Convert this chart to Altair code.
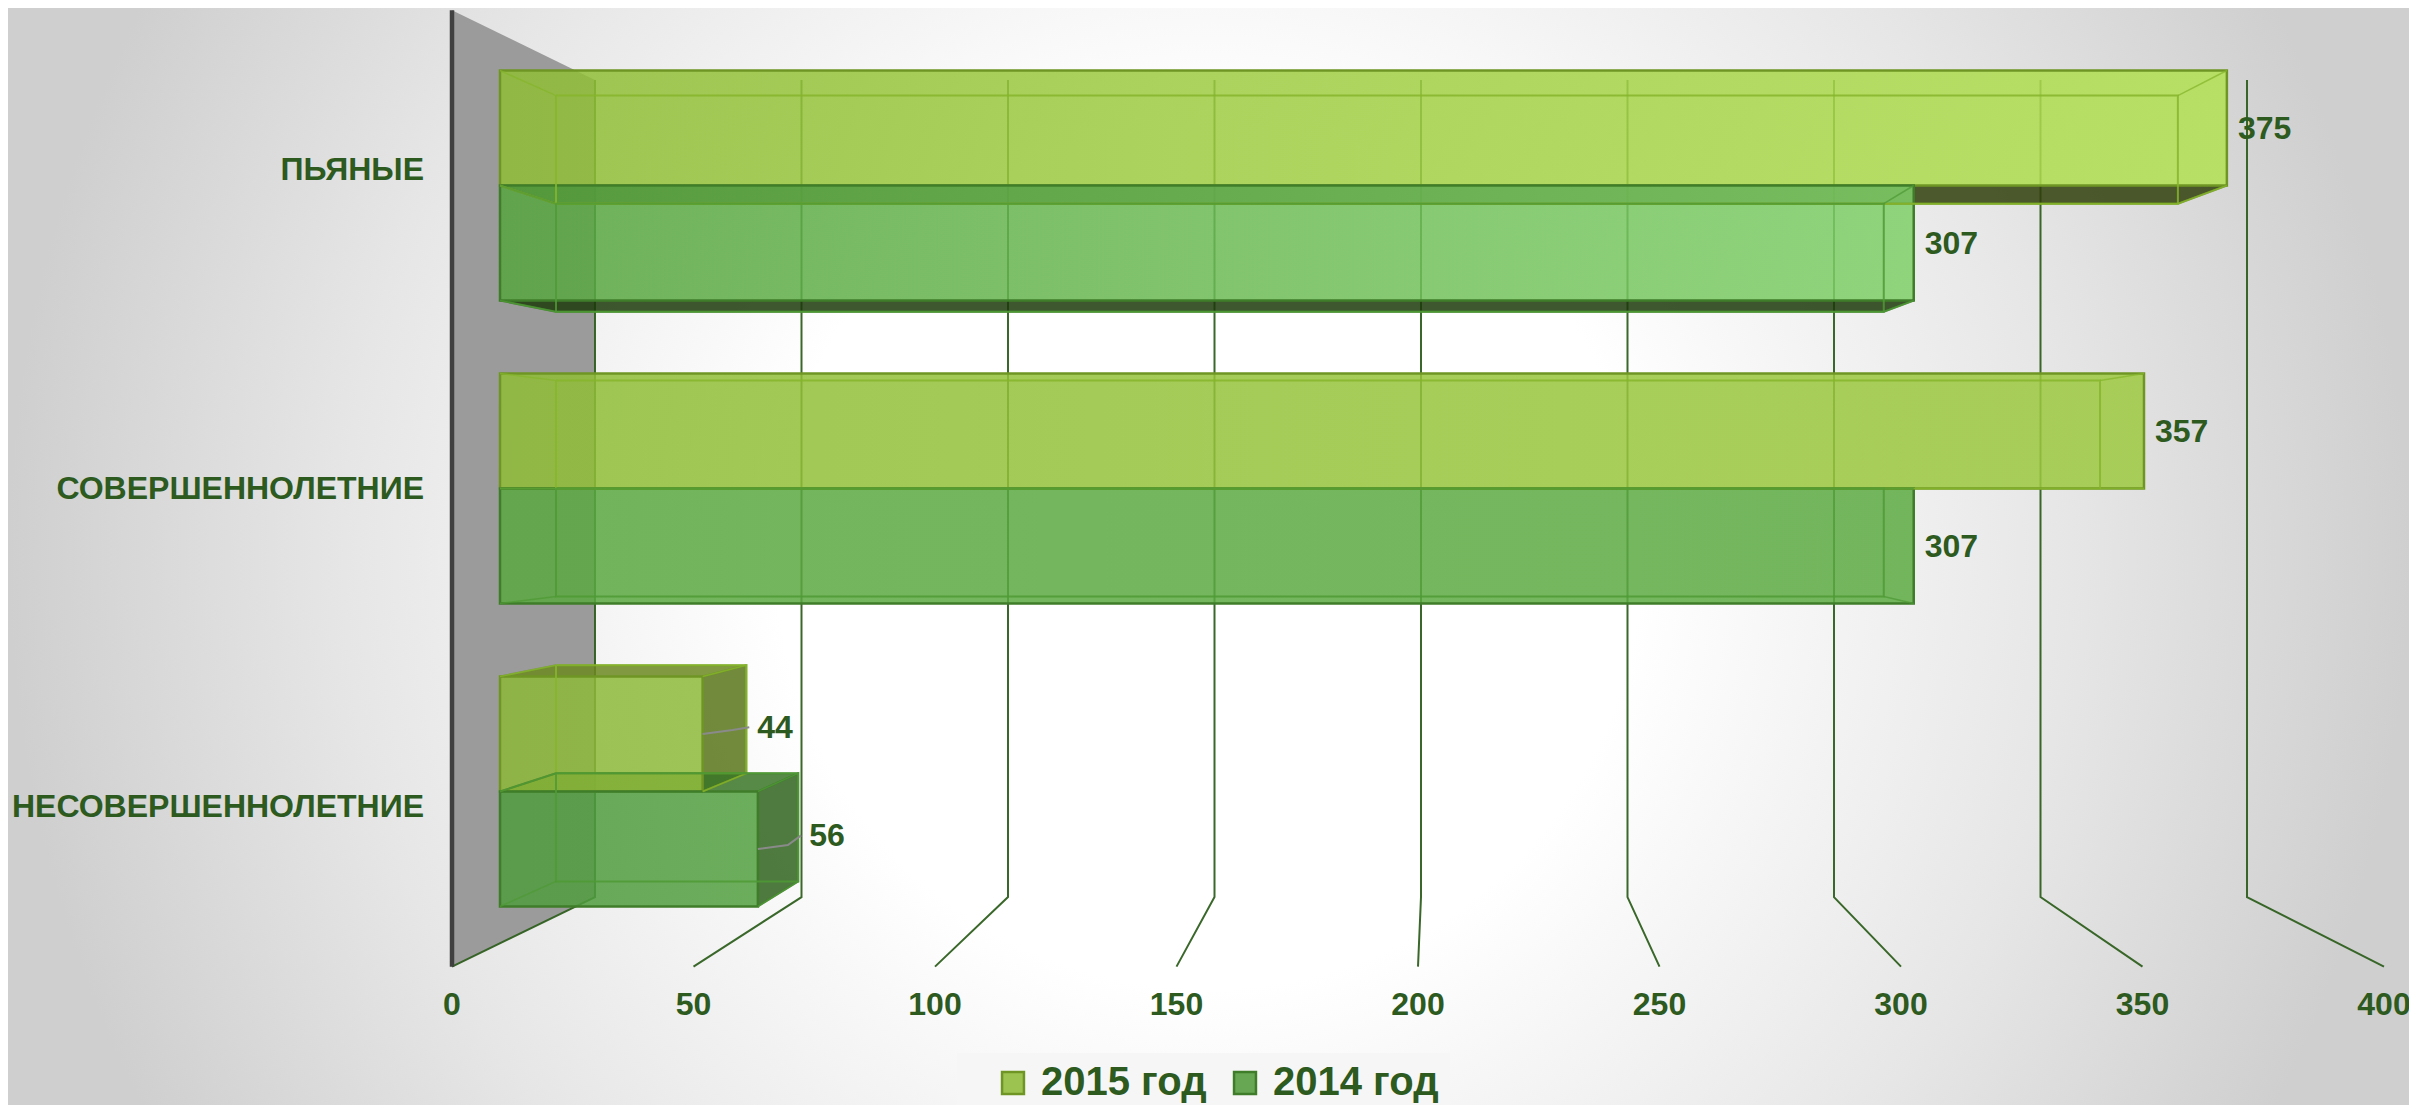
import altair as alt
import pandas as pd

categories = ["ПЬЯНЫЕ", "СОВЕРШЕННОЛЕТНИЕ", "НЕСОВЕРШЕННОЛЕТНИЕ"]
values_2015 = [375, 357, 44]
values_2014 = [307, 307, 56]
series_names = ["2015 год", "2014 год"]
ticks = [0, 50, 100, 150, 200, 250, 300, 350, 400]

W, H = 2401, 1097
FONT = "Liberation Sans"
TXT = "#2d5a1e"

# Perspective planes: origin and unit length along the value axis, shrink of the vertical span
PLANES = {
    "floor": (452, 4.83, 1.052),
    "front": (500, 4.605, 1.0),
    "back": (556, 4.325, 0.94),
    "wall": (595, 4.13, 0.899),
}
Y_C = 488.5
STEP = 303.0
BAR = 115.0 / 303.0
K = PLANES["front"][1]


def ux(px):
    return (px - 500) / K


def uy(px):
    return (px - Y_C) / STEP


def P(v, row, plane, dx=0.0, dy=0.0):
    """value, row offset from chart centre (in category steps) -> plot units"""
    o, k, f = PLANES[plane]
    return {"x": ux(o + k * v + dx), "y": row * f + dy / STEP}


xs = alt.Scale(domain=[ux(8), ux(8 + W)], nice=False, zero=False)
ys = alt.Scale(domain=[uy(8 + H), uy(8)], nice=False, zero=False)
X = alt.X("x:Q", scale=xs, axis=None)
Y = alt.Y("y:Q", scale=ys, axis=None)


def line(points, color, width=2.0, opacity=1.0):
    df = pd.DataFrame([dict(p, o=i) for i, p in enumerate(points)])
    return alt.Chart(df).mark_line(
        color=color, strokeWidth=width, opacity=opacity, interpolate="linear", clip=False
    ).encode(x=X, y=Y, order="o:Q")


def hface(a, b, color, opacity=0.85):
    """area between two horizontal edges a=(x1,x2,y) and b"""
    df = pd.DataFrame([
        {"y": a["y"], "x": a["x"], "x2": a["x2"]},
        {"y": b["y"], "x": b["x"], "x2": b["x2"]},
    ])
    return alt.Chart(df).mark_area(orient="horizontal", color=color, opacity=opacity).encode(
        y=Y, x=X, x2="x2:Q"
    )


def vface(a, b, color, opacity=0.85):
    """area between two vertical edges a=(x,y,y2) and b"""
    df = pd.DataFrame([
        {"x": a["x"], "y": a["y"], "y2": a["y2"]},
        {"x": b["x"], "y": b["y"], "y2": b["y2"]},
    ])
    return alt.Chart(df).mark_area(orient="vertical", color=color, opacity=opacity).encode(
        x=X, y=Y, y2="y2:Q"
    )


def grad(c1, c2):
    return alt.LinearGradient(
        gradient="linear", x1=0, x2=1, y1=0, y2=0,
        stops=[alt.GradientStop(color=c1, offset=0), alt.GradientStop(color=c2, offset=1)],
    )


# ---------- background ----------
bg = alt.Chart(pd.DataFrame({"a": [0]})).mark_rect(
    color=alt.RadialGradient(
        gradient="radial", x1=0.5, y1=0.5, x2=0.5, y2=0.5, r1=0, r2=0.5,
        stops=[
            alt.GradientStop(color="#ffffff", offset=0),
            alt.GradientStop(color="#ffffff", offset=0.36),
            alt.GradientStop(color="#e6e6e6", offset=0.72),
            alt.GradientStop(color="#cfcfcf", offset=1),
        ],
    )
).encode(x=alt.value(0), x2=alt.value(W), y=alt.value(0), y2=alt.value(H))

layers = [bg]

# ---------- wall and grid ----------
ft, fb = P(0, -1.5, "floor"), P(0, 1.5, "floor")
wt, wb = P(0, -1.5, "wall"), P(0, 1.5, "wall")
layers.append(vface(
    {"x": ft["x"], "y": ft["y"], "y2": fb["y"]},
    {"x": wt["x"], "y": wt["y"], "y2": wb["y"]},
    "#9b9b9b", 1.0,
))
GRID = "#2f5f1f"
for t in ticks:
    layers.append(line(
        [P(t, 1.5, "floor"), P(t, 1.5, "wall"), P(t, -1.5, "wall")],
        GRID, 2.0, 0.95,
    ))
layers.append(line([ft, fb], "#404040", 4.5))

# ---------- bars ----------
rows = [-1, 0, 1]
STYLE = {
    "2015": {"stroke": "#6f9625", "inner": "#86b52c",
             "fills": ["#8fbd35", "#b2e152"], "fills_mid": ["#8fbd36", "#9dca40"], "fills_low": ["#8cb738", "#8eba3a"],
             "under": "#303f0a", "top": "#6c8821", "side": "#59761a"},
    "2014": {"stroke": "#3f7d2a", "inner": "#4f9a35",
             "fills": ["#57a540", "#7fcf68"], "fills_mid": ["#5aa840", "#5cab42"], "fills_low": ["#4f9b3e", "#52a040"],
             "under": "#1c390b", "top": "#3a7627", "side": "#30641e"},
}
bars = []
for i, r in enumerate(rows):
    bars.append(("2015", values_2015[i], r - BAR, r, r))
    bars.append(("2014", values_2014[i], r, r + BAR, r))

faces, fronts, inners = [], [], []
for s, v, y0, y1, r in bars:
    st = STYLE[s]
    f00, f10 = P(0, y0, "front"), P(v, y0, "front")
    f01, f11 = P(0, y1, "front"), P(v, y1, "front")
    b00, b10 = P(0, y0, "back"), P(v, y0, "back")
    b01, b11 = P(0, y1, "back"), P(v, y1, "back")
    if r < 0:
        faces.append(hface(
            {"x": f01["x"], "x2": f11["x"], "y": f01["y"]},
            {"x": b01["x"], "x2": b11["x"], "y": b01["y"]},
            st["under"],
        ))
    if r > 0:
        faces.append(hface(
            {"x": f00["x"], "x2": f10["x"], "y": f00["y"]},
            {"x": b00["x"], "x2": b10["x"], "y": b00["y"]},
            st["top"],
        ))
        faces.append(vface(
            {"x": f10["x"], "y": f10["y"], "y2": f11["y"]},
            {"x": b10["x"], "y": b10["y"], "y2": b11["y"]},
            st["side"],
        ))
        inners.append(line([f10, b10, b11, f11], st["stroke"], 2.0, 0.9))
        inners.append(line([f00, b00, b10], st["stroke"], 2.0, 0.7))
    if r < 0:
        inners.append(line([f01, b01, b11, f11], st["stroke"], 2.0, 0.9))
    key = "fills" if r < 0 else ("fills_mid" if r == 0 else "fills_low")
    fdf = pd.DataFrame([{"x": f00["x"], "x2": f10["x"], "y": f00["y"], "y2": f11["y"]}])
    fronts.append(alt.Chart(fdf).mark_rect(
        fill=grad(*st[key]), fillOpacity=0.85, stroke=st["stroke"], strokeWidth=2.5,
    ).encode(x=X, x2="x2:Q", y=Y, y2="y2:Q"))
    inners.append(line([b00, b10, b11, b01, b00], st["inner"], 2.0, 0.85))
    for a, b in ((f00, b00), (f10, b10), (f01, b01), (f11, b11)):
        inners.append(line([a, b], st["inner"], 1.5, 0.75))

layers += faces + fronts + inners

# ---------- leader lines and data labels ----------
labels = []
for s, v, y0, y1, r in bars:
    c = (y0 + y1) / 2
    if r > 0:
        fx = P(v, c, "front")
        layers.append(line([
            fx,
            P(v, c, "front", dx=30, dy=-4),
            P(v, c, "back", dx=3, dy=8),
        ], "#8a8a8a", 2.0))
        lab = P(v, c, "back", dx=11, dy=9)
    else:
        lab = P(v, c, "front", dx=11, dy=1)
    labels.append(dict(lab, t=str(v)))
layers.append(alt.Chart(pd.DataFrame(labels)).mark_text(
    align="left", baseline="middle", font=FONT, fontWeight="bold", fontSize=32, color=TXT
).encode(x=X, y=Y, text="t:N"))

# ---------- category labels ----------
cat_rows = [dict(P(0, r, "floor", dx=-28), t=c) for r, c in zip(rows, categories)]
layers.append(alt.Chart(pd.DataFrame(cat_rows)).mark_text(
    align="right", baseline="middle", font=FONT, fontWeight="bold", fontSize=32, color=TXT
).encode(x=X, y=Y, text="t:N"))

# ---------- tick labels ----------
tick_rows = [dict(P(t, 1.5, "floor", dy=38), t=str(t)) for t in ticks]
layers.append(alt.Chart(pd.DataFrame(tick_rows)).mark_text(
    align="center", baseline="middle", font=FONT, fontWeight="bold", fontSize=32, color=TXT
).encode(x=X, y=Y, text="t:N"))

# ---------- legend ----------
layers.append(alt.Chart(pd.DataFrame({"a": [0]})).mark_rect(color="#f6f6f6").encode(
    x=alt.value(957 - 8), x2=alt.value(1450 - 8), y=alt.value(1053 - 8), y2=alt.value(H)
))
legend = alt.Legend(
    orient="none", legendX=985, legendY=1055, direction="horizontal", title=None,
    symbolType="square", symbolSize=480, symbolStrokeWidth=2.5, symbolOpacity=1,
    labelFont=FONT, labelFontWeight="bold", labelFontSize=40, labelColor=TXT,
    labelOffset=8, columnPadding=18, labelLimit=400,
)
legend_df = pd.DataFrame({"s": series_names})
layers.append(alt.Chart(legend_df).mark_square(size=0, opacity=1).encode(
    x=alt.value(-50), y=alt.value(-50),
    fill=alt.Fill("s:N", scale=alt.Scale(domain=series_names, range=["#9cc24f", "#67a753"]), legend=legend),
    stroke=alt.Stroke("s:N", scale=alt.Scale(domain=series_names, range=["#6f9625", "#3f7d2a"]), legend=legend),
))

chart = alt.layer(*layers).properties(
    width=W, height=H, padding=0, autosize=alt.AutoSizeParams(type="none"),
).configure_view(stroke=None)

chart.save("out.html", embed_options={"renderer": "svg", "actions": False})
